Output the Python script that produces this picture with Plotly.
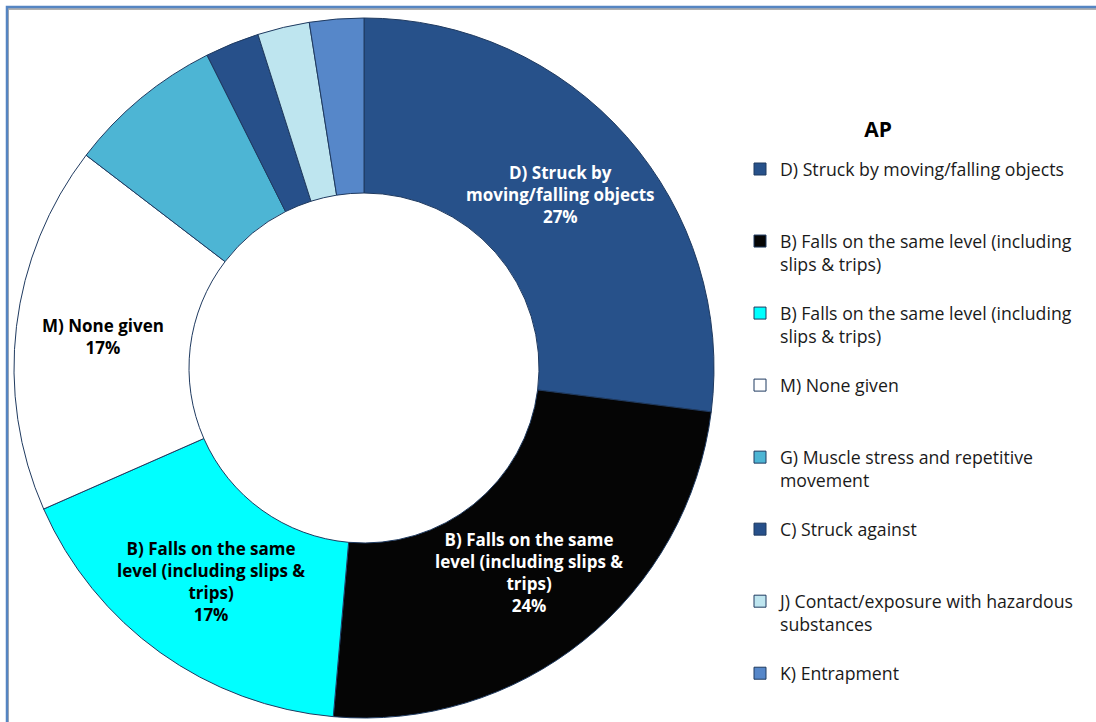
import plotly.graph_objects as go
import math

# Accident categories (share of all AP incidents, %)
categories = [
    "D) Struck by moving/falling objects",
    "B) Falls on the same level (including slips & trips)",
    "B) Falls on the same level (including slips & trips)",
    "M) None given",
    "G) Muscle stress and repetitive movement",
    "C) Struck against",
    "J) Contact/exposure with hazardous substances",
    "K) Entrapment",
]
shares = [27.0, 24.4, 17.0, 17.0, 7.2, 2.5, 2.4, 2.5]

# Legend text, wrapped as in the legend box
legend_text = [
    "D) Struck by moving/falling objects",
    "B) Falls on the same level (including<br>slips & trips)",
    "B) Falls on the same level (including<br>slips & trips)",
    "M) None given",
    "G) Muscle stress and repetitive<br>movement",
    "C) Struck against",
    "J) Contact/exposure with hazardous<br>substances",
    "K) Entrapment",
]

# In-slice label text (None = no label on that slice)
slice_text = [
    "D) Struck by<br>moving/falling objects",
    "B) Falls on the same<br>level (including slips &<br>trips)",
    "B) Falls on the same<br>level (including slips &<br>trips)",
    "M) None given",
    None, None, None, None,
]

colors = ["#27518a", "#050505", "#00ffff", "#ffffff",
          "#4db5d4", "#27508a", "#bee5ef", "#5687c9"]
label_colors = ["#ffffff", "#ffffff", "#000000", "#000000", None, None, None, None]

W, H = 1096, 722
CX, CY, R = 364, 368, 350   # pie centre and outer radius, px
HOLE = 0.5
FONT = "Open Sans"

# Each legend entry occupies three text lines; pad shorter ones with blank lines.
# The extra &nbsp; keeps the two "B)" entries distinct as slice labels.
labels = []
for i, t in enumerate(legend_text):
    n = t.count("<br>") + 1
    pad = "<br>&nbsp;" * (3 - n) if i < len(legend_text) - 1 else ""
    if i == 2:
        t = t + "&nbsp;"
    labels.append(t + pad)

fig = go.Figure(go.Pie(
    labels=labels,
    values=shares,
    sort=False,
    direction="clockwise",
    rotation=0,
    hole=HOLE,
    marker=dict(colors=colors, line=dict(color="#1f3a60", width=1)),
    textinfo="none",
    domain=dict(x=[(CX - R) / W, (CX + R) / W],
                y=[(H - CY - R) / H, (H - CY + R) / H]),
    hovertext=categories,
    hoverinfo="text+percent",
))

# Slice labels at the mid-radius of each slice's bisector
total = sum(shares)
r_mid = R * (1 + HOLE) / 2
acc = 0.0
annotations = []
for v, txt, col in zip(shares, slice_text, label_colors):
    mid = (acc + v / 2) / total * 2 * math.pi
    acc += v
    if txt is None:
        continue
    px = CX + r_mid * math.sin(mid)
    py = CY - r_mid * math.cos(mid)
    annotations.append(dict(
        x=px / W, y=(H - py) / H, xref="paper", yref="paper",
        xanchor="center", yanchor="middle",
        text=f"<b>{txt}<br>{round(100 * v / total)}%</b>",
        showarrow=False, align="center",
        font=dict(family=FONT, size=17, color=col),
    ))

fig.update_layout(
    width=W, height=H,
    margin=dict(l=0, r=0, t=0, b=0),
    paper_bgcolor="white",
    plot_bgcolor="white",
    title=dict(text="<b>AP</b>", x=878 / W, xanchor="center",
               y=(H - 130) / H, yanchor="middle",
               font=dict(family=FONT, size=21, color="#000000")),
    showlegend=True,
    legend=dict(
        x=740 / W, y=(H - 151) / H, xanchor="left", yanchor="top",
        font=dict(family=FONT, size=17.7, color="#1a1a1a"),
        valign="top", traceorder="normal",
        bgcolor="rgba(0,0,0,0)",
    ),
    annotations=annotations,
    shapes=[
        # shadowed frame around the chart area
        dict(type="rect", xref="paper", yref="paper",
             x0=8 / W, x1=1.02, y0=-0.03, y1=(H - 9) / H,
             line=dict(color="#b0b0b0", width=2), layer="below"),
        dict(type="rect", xref="paper", yref="paper",
             x0=7 / W, x1=1.02, y0=-0.03, y1=(H - 7) / H,
             line=dict(color="#5585c2", width=2.5), layer="below"),
    ],
)

fig.write_html("out.html")
